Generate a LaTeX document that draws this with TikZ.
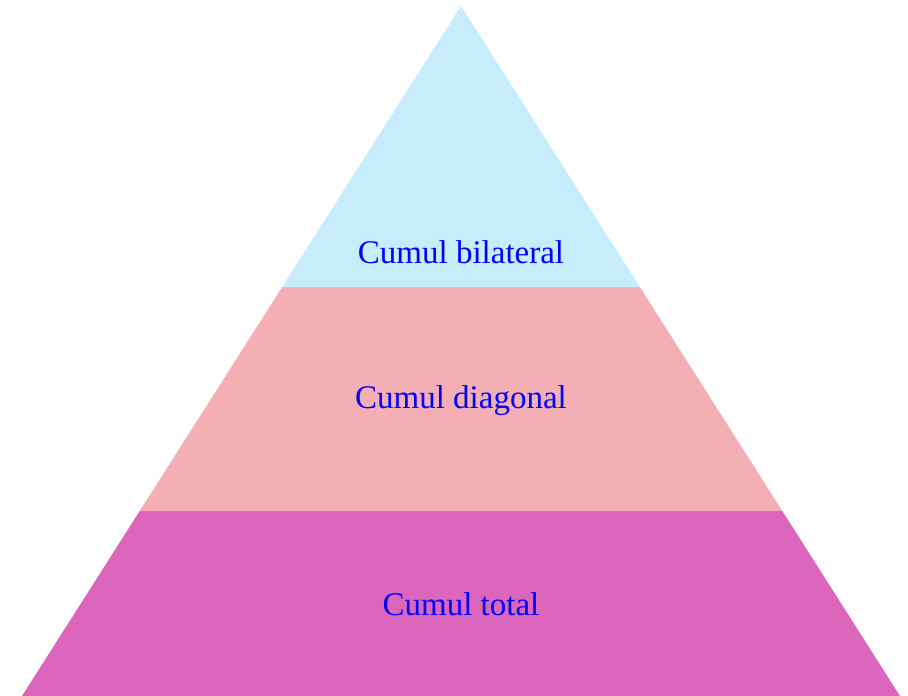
\documentclass[tikz,border=0pt]{standalone}
\usepackage{fontspec}
\setmainfont{Liberation Serif}
\usetikzlibrary{calc}

\definecolor{cumulbleu}{HTML}{C7EDFD}
\definecolor{cumulrose}{HTML}{F4AFB4}
\definecolor{cumulmagenta}{HTML}{DD66BD}

\tikzset{
  etage/.style={draw=none},
  etiquette/.style={text=blue, font=\fontsize{33}{36}\selectfont, inner sep=0pt}
}

\begin{document}
\begin{tikzpicture}[x=1pt, y=1pt]

        % Cadre de l'image
        \useasboundingbox (0,0) rectangle (908,696);

        % Sommet et base de la pyramide
        \coordinate (sommet) at (461,690);
        \coordinate (bg) at (22,0);
        \coordinate (bd) at (900,0);

        % Limites des etages
        \coordinate (g1) at ($(bg)!185/690!(sommet)$);
        \coordinate (d1) at ($(bd)!185/690!(sommet)$);
        \coordinate (g2) at ($(bg)!409/690!(sommet)$);
        \coordinate (d2) at ($(bd)!409/690!(sommet)$);

        % Etages
        \fill[etage, cumulmagenta] (bg) -- (bd) -- (d1) -- (g1) -- cycle;
        \fill[etage, cumulrose] (g1) -- (d1) -- (d2) -- (g2) -- cycle;
        \fill[etage, cumulbleu] (g2) -- (d2) -- (sommet) -- cycle;

        % Textes
        \node[etiquette] (bilateral) at (461,444) {Cumul bilateral};
        \node[etiquette] (diagonal) at (461,295) {Cumul diagonal};
        \node[etiquette] (total) at (461,92) {Cumul total};

\end{tikzpicture}
\end{document}
